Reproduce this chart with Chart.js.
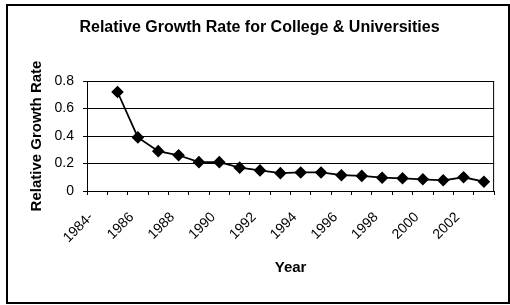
<!DOCTYPE html>
<html>
<head>
<meta charset="utf-8">
<script src="https://cdn.jsdelivr.net/npm/chart.js@4/dist/chart.umd.min.js"></script>
<style>
  body { margin: 0; background: #fff; }
  #wrap { position: relative; width: 510px; height: 305px; }
  #frame { position: absolute; left: 6px; top: 4px; width: 500px; height: 296px; border: 2px solid #000; }
  #myChart { position: absolute; left: 0; top: 0; }
</style>
</head>
<body>
<div id="wrap">
  <div id="frame"></div>
  <canvas id="myChart" width="510" height="305"></canvas>
</div>
<script>
// categories (first one has no value)
let years = ["1984-", "1985", "1986", "1987", "1988", "1989", "1990", "1991", "1992", "1993",
  "1994", "1995", "1996", "1997", "1998", "1999", "2000", "2001", "2002", "2003"];
let growthRate = [null, 0.72, 0.39, 0.29, 0.26, 0.21, 0.21, 0.17, 0.15, 0.13,
  0.135, 0.135, 0.115, 0.11, 0.097, 0.092, 0.085, 0.078, 0.1, 0.068];
let yTicks = [0, 0.2, 0.4, 0.6, 0.8];

let font = "'Liberation Sans', Arial, sans-serif";

// box around the plot area (Excel style)
const plotBorder = {
  id: "plotBorder",
  afterDraw(chart) {
    const a = chart.chartArea;
    const ctx = chart.ctx;
    ctx.save();
    ctx.strokeStyle = "#000";
    ctx.lineWidth = 1;
    ctx.strokeRect(a.left + 0.5, a.top + 0.5, a.right - a.left - 1, a.bottom - a.top);
    ctx.restore();
  },
};

var ctx = document.getElementById("myChart").getContext("2d");
var myChart = new Chart(ctx, {
  type: "line",
  data: {
    labels: years,
    datasets: [
      {
        label: "Relative Growth Rate",
        data: growthRate,
        borderColor: "#000",
        backgroundColor: "#000",
        borderWidth: 1.8,
        pointStyle: "rectRot",
        pointRadius: 5,
        pointBackgroundColor: "#000",
        tension: 0,
      },
    ],
  },
  options: {
    responsive: false,
    animation: false,
    layout: { padding: { left: 17, right: 8, top: 0, bottom: 0 } },
    plugins: {
      legend: { display: false },
      tooltip: { enabled: false },
      title: {
        display: true,
        text: "Relative Growth Rate for College & Universities",
        color: "#000",
        font: { family: font, size: 16, weight: "bold" },
        padding: { top: 18.4, bottom: 43.4 },
      },
    },
    scales: {
      x: {
        offset: true,
        grid: { display: true, drawOnChartArea: false, offset: true, tickLength: 4, color: "#000" },
        border: { color: "#000" },
        ticks: {
          autoSkip: false,
          minRotation: 45,
          maxRotation: 45,
          padding: 14,
          labelOffset: -6,
          color: "#000",
          font: { family: font, size: 14 },
          callback: (val, i) => (i % 2 === 0 ? years[i] : ""),
        },
        title: {
          display: true,
          text: "Year",
          color: "#000",
          font: { family: font, size: 15, weight: "bold" },
          padding: { top: 4, bottom: 28 },
        },
        afterFit: (scale) => {
          scale.height = 114;
        },
      },
      y: {
        min: 0,
        max: 0.8,
        afterBuildTicks: (scale) => {
          scale.ticks = yTicks.map((v) => ({ value: v }));
        },
        grid: { color: "#000", tickLength: 4 },
        border: { color: "#000" },
        ticks: {
          padding: 9,
          color: "#000",
          font: { family: font, size: 14 },
        },
        title: {
          display: true,
          text: "Relative Growth Rate",
          color: "#000",
          font: { family: font, size: 15, weight: "bold" },
          padding: { top: 11, bottom: 4 },
        },
        afterFit: (scale) => {
          scale.width = 70;
        },
      },
    },
  },
  plugins: [plotBorder],
});
</script>
</body>
</html>
